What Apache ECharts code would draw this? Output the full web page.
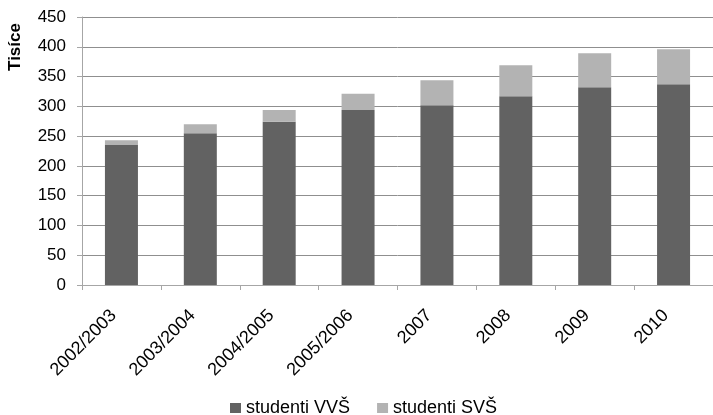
<!DOCTYPE html>
<html>
<head>
<meta charset="utf-8">
<script src="https://cdn.jsdelivr.net/npm/echarts@6/dist/echarts.min.js"></script>
<style>
html,body{margin:0;padding:0;background:#fff;}
#chart{width:713px;height:415px;}
</style>
</head>
<body>
<div id="chart"></div>
<script>
const categories = ['2002/2003','2003/2004','2004/2005','2005/2006','2007','2008','2009','2010'];
const studentiVVS = [235, 255, 274, 294, 302, 317, 332, 337];
const studentiSVS = [8, 15, 20, 27, 42, 52, 57, 59];
const yTicks = {min: 0, max: 450, interval: 50};
const seriesNames = ['studenti VVŠ', 'studenti SVŠ'];
const yAxisTitle = 'Tisíce';

const FONT = "'Liberation Sans', Arial, sans-serif";
const chart = echarts.init(document.getElementById('chart'), null, {renderer: 'canvas'});
chart.setOption({
  animation: false,
  backgroundColor: '#fff',
  grid: {left: 82, top: 17, right: -3, bottom: 130, containLabel: false},
  legend: {
    data: seriesNames,
    left: 225,
    top: 394,
    itemWidth: 11,
    itemHeight: 10,
    itemGap: 27,
    icon: 'rect',
    textStyle: {fontFamily: FONT, fontSize: 18, color: '#000'}
  },
  graphic: [{
    type: 'text',
    x: 15,
    y: 47,
    rotation: Math.PI / 2,
    style: {
      text: yAxisTitle,
      font: "bold 17px 'Liberation Sans', Arial, sans-serif",
      fill: '#000',
      align: 'center',
      verticalAlign: 'middle'
    }
  }],
  xAxis: {
    type: 'category',
    data: categories,
    axisLine: {show: true, lineStyle: {color: '#a6a6a6', width: 1}},
    axisTick: {show: true, length: 5, lineStyle: {color: '#a6a6a6'}},
    axisLabel: {
      rotate: 45,
      interval: 0,
      margin: 20,
      padding: [0, 11, 0, 0],
      fontFamily: FONT,
      fontSize: 18,
      color: '#000'
    }
  },
  yAxis: {
    type: 'value',
    min: yTicks.min,
    max: yTicks.max,
    interval: yTicks.interval,
    axisLine: {show: true, lineStyle: {color: '#a6a6a6', width: 1}},
    axisTick: {show: true, length: 5, lineStyle: {color: '#a6a6a6'}},
    splitLine: {show: true, lineStyle: {color: '#8f8f8f', width: 1}},
    axisLabel: {margin: 16, fontFamily: FONT, fontSize: 17, color: '#000'}
  },
  series: [
    {name: seriesNames[0], type: 'bar', stack: 'total', data: studentiVVS, barWidth: 33,
     itemStyle: {color: '#626262'}},
    {name: seriesNames[1], type: 'bar', stack: 'total', data: studentiSVS, barWidth: 33,
     itemStyle: {color: '#b3b3b3'}}
  ]
});
</script>
</body>
</html>
